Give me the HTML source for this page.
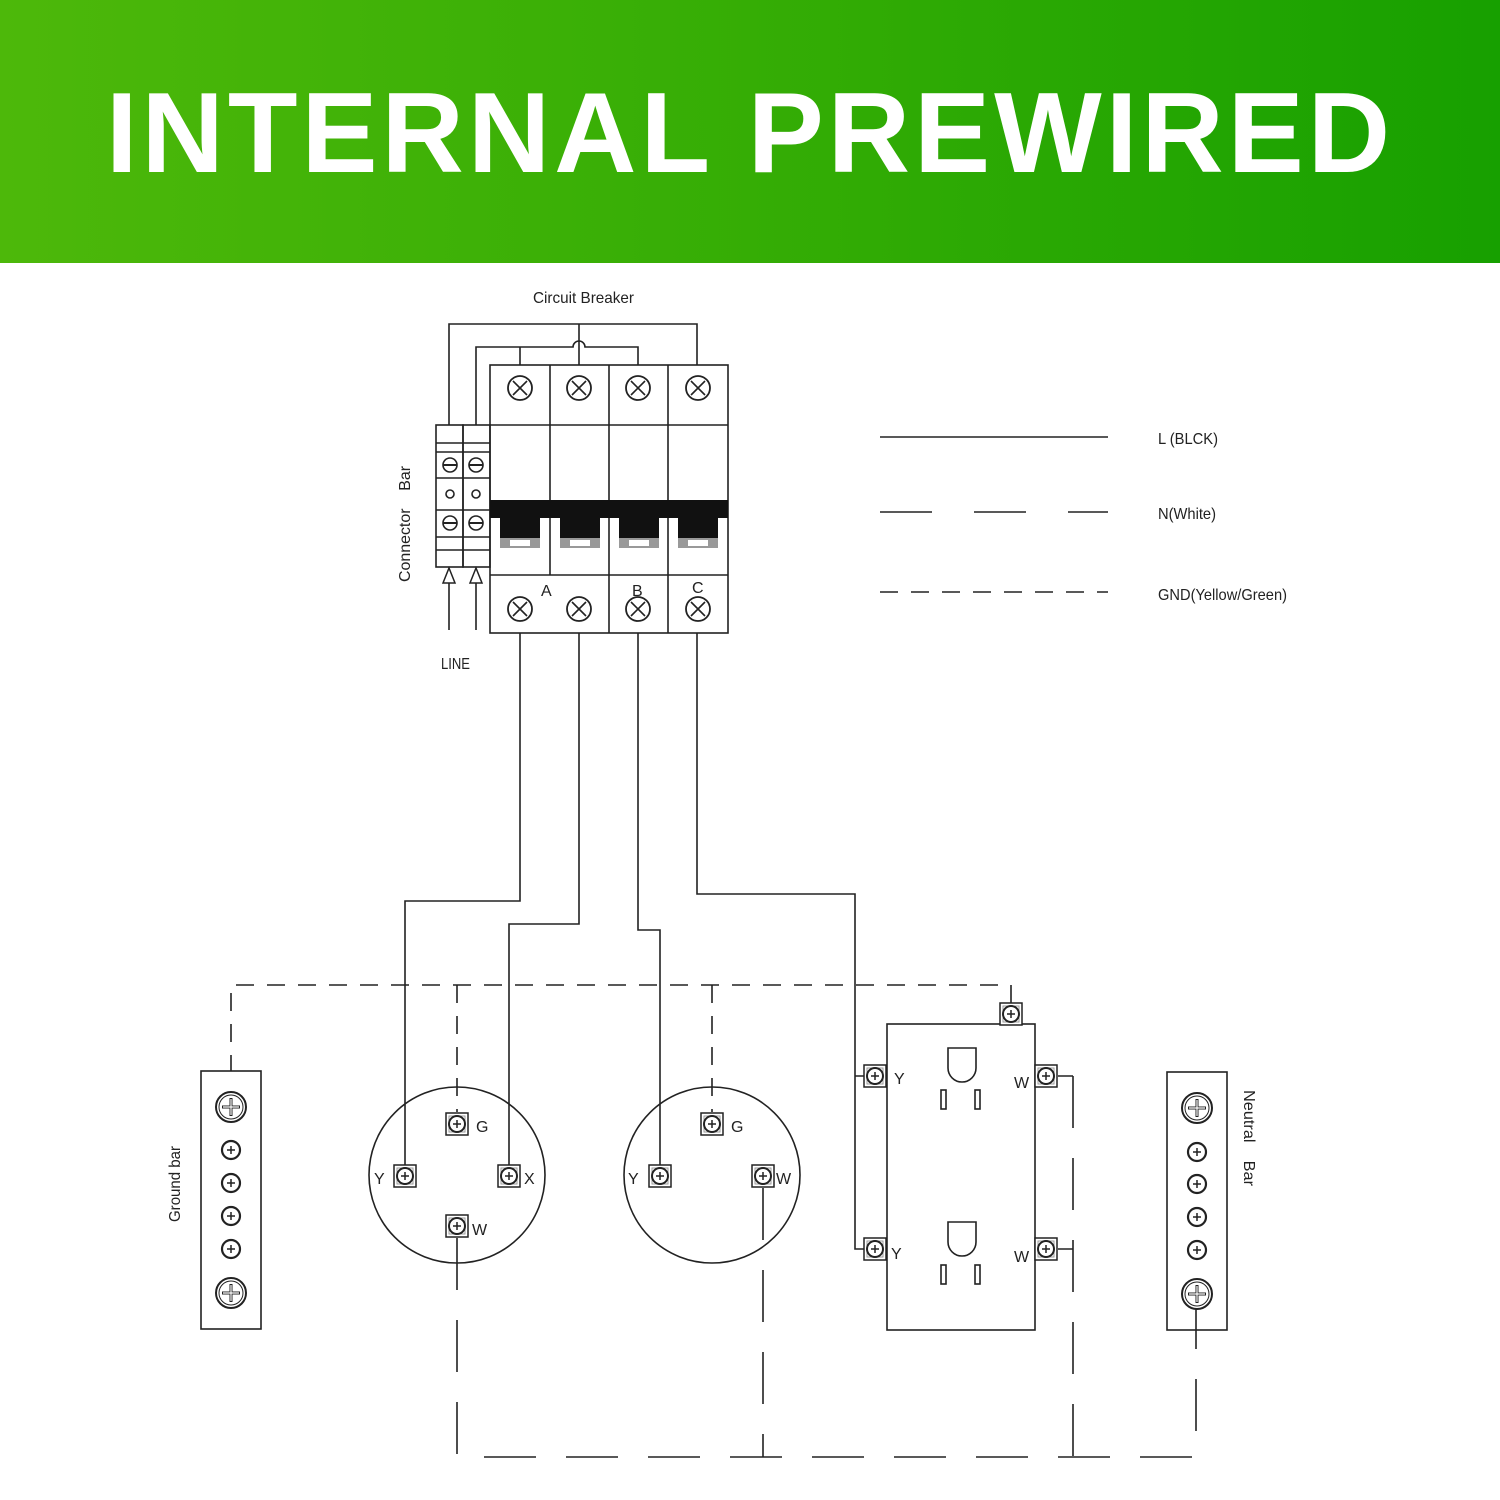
<!DOCTYPE html>
<html><head><meta charset="utf-8"><style>
html,body{margin:0;padding:0;background:#fff;}
.hdr{position:absolute;left:0;top:0;width:1500px;height:263px;background:linear-gradient(90deg,#4db80a 0%,#35ad05 50%,#17a000 100%);}
.hdr div{position:absolute;left:0;width:1500px;top:68px;text-align:center;color:#fff;font:bold 114px "Liberation Sans",sans-serif;letter-spacing:4px;}
svg{position:absolute;left:0;top:0;}
text{font-family:"Liberation Sans Narrow","Liberation Sans",sans-serif;fill:#222;font-size:16px;}
</style></head><body>
<div class="hdr"><div>INTERNAL PREWIRED</div></div>
<svg width="1500" height="1500" viewBox="0 0 1500 1500">
<defs>
<g id="tx"><path d="M-7,-7 L7,7 M7,-7 L-7,7" stroke="#222" stroke-width="1.6"/></g>
<g id="term"><rect x="-11" y="-11" width="22" height="22" fill="#fff" stroke="#222" stroke-width="1.5"/><rect x="-8" y="-8" width="16" height="16" fill="none" stroke="#999" stroke-width="1"/><circle r="8" fill="#fff" stroke="#222" stroke-width="2"/><path d="M-4,0H4M0,-4V4" stroke="#222" stroke-width="1.5"/></g>
<g id="bs"><circle r="15" fill="#fff" stroke="#222" stroke-width="2"/><circle r="12" fill="none" stroke="#222" stroke-width="1"/><path d="M-9,0H9M0,-9V9" stroke="#222" stroke-width="3"/><path d="M-8,0H8M0,-8V8" stroke="#fff" stroke-width="1.2"/></g>
<g id="ss"><circle r="9" fill="#fff" stroke="#222" stroke-width="2.2"/><path d="M-4,0H4M0,-4V4" stroke="#222" stroke-width="1.5"/></g>
</defs>
<g fill="none" stroke="#222" stroke-width="1.6">
<path d="M449,425V324H697V365M579,324V365"/>
<path d="M476,425V347H573A6,6 0 0 1 585,347H638V365M520,347V365"/>
<rect x="490" y="365" width="238" height="268"/>
<path d="M490,425H728M490,575H728M550,365V575M609,365V633M668,365V633"/>
<rect x="436" y="425" width="27" height="142"/><rect x="463" y="425" width="27" height="142"/>
<path d="M436,443H490M436,452H490M436,478H490M436,510H490M436,537H490M436,550H490"/>
</g>
<g fill="#fff" stroke="#222" stroke-width="1.6">
<circle cx="450" cy="465" r="7"/><circle cx="476" cy="465" r="7"/><circle cx="450" cy="494" r="4"/><circle cx="476" cy="494" r="4"/><circle cx="450" cy="523" r="7"/><circle cx="476" cy="523" r="7"/>
</g>
<path d="M443,465H457M469,465H483M443,523H457M469,523H483" stroke="#222" stroke-width="2"/>
<path d="M443,583L449,568L455,583ZM470,583L476,568L482,583Z" fill="#fff" stroke="#222" stroke-width="1.5"/>
<path d="M449,583V630M476,583V630" stroke="#222" stroke-width="1.6"/>
<rect x="490" y="500" width="238" height="18" fill="#111"/>
<g fill="#111"><rect x="500" y="516" width="40" height="22"/><rect x="560" y="516" width="40" height="22"/><rect x="619" y="516" width="40" height="22"/><rect x="678" y="516" width="40" height="22"/></g>
<g fill="#999"><rect x="500" y="538" width="40" height="10"/><rect x="560" y="538" width="40" height="10"/><rect x="619" y="538" width="40" height="10"/><rect x="678" y="538" width="40" height="10"/></g>
<g fill="#fff"><rect x="510" y="540" width="20" height="6"/><rect x="570" y="540" width="20" height="6"/><rect x="629" y="540" width="20" height="6"/><rect x="688" y="540" width="20" height="6"/></g>
<g fill="#fff" stroke="#222" stroke-width="1.8">
<circle cx="520" cy="388" r="12"/><circle cx="579" cy="388" r="12"/><circle cx="638" cy="388" r="12"/><circle cx="698" cy="388" r="12"/>
<circle cx="520" cy="609" r="12"/><circle cx="579" cy="609" r="12"/><circle cx="638" cy="609" r="12"/><circle cx="698" cy="609" r="12"/>
</g>
<use href="#tx" x="520" y="388"/><use href="#tx" x="579" y="388"/><use href="#tx" x="638" y="388"/><use href="#tx" x="698" y="388"/>
<use href="#tx" x="520" y="609"/><use href="#tx" x="579" y="609"/><use href="#tx" x="638" y="609"/><use href="#tx" x="698" y="609"/>
<text x="541" y="596">A</text><text x="632" y="596">B</text><text x="692" y="593">C</text>
<text x="533" y="303" textLength="101" lengthAdjust="spacingAndGlyphs">Circuit Breaker</text>
<text x="441" y="669" textLength="29" lengthAdjust="spacingAndGlyphs">LINE</text>
<text transform="translate(410,582) rotate(-90)" textLength="116" lengthAdjust="spacingAndGlyphs">Connector&#160;&#160;&#160;&#160;Bar</text>
<g stroke="#222" stroke-width="1.6" fill="none">
<path d="M880,437H1108"/>
<path d="M880,512H1108" stroke-dasharray="52 42"/>
<path d="M880,592H1108" stroke-dasharray="18 13"/>
</g>
<text x="1158" y="444" textLength="60" lengthAdjust="spacingAndGlyphs">L (BLCK)</text>
<text x="1158" y="519" textLength="58" lengthAdjust="spacingAndGlyphs">N(White)</text>
<text x="1158" y="600" textLength="129" lengthAdjust="spacingAndGlyphs">GND(Yellow/Green)</text>
<g fill="none" stroke="#222" stroke-width="1.6">
<path d="M520,633V901H405V1176"/>
<path d="M579,633V924H509V1176"/>
<path d="M638,633V930H660V1176"/>
<path d="M697,633V894H855V1249H875M855,1076H875"/>
<circle cx="457" cy="1175" r="88"/><circle cx="712" cy="1175" r="88"/>
<rect x="887" y="1024" width="148" height="306"/>
<rect x="201" y="1071" width="60" height="258"/>
<rect x="1167" y="1072" width="60" height="258"/>
<path d="M948,1048V1068A14,14 0 0 0 976,1068V1048Z"/><rect x="941" y="1090" width="5" height="19"/><rect x="975" y="1090" width="5" height="19"/>
<path d="M948,1222V1242A14,14 0 0 0 976,1242V1222Z"/><rect x="941" y="1265" width="5" height="19"/><rect x="975" y="1265" width="5" height="19"/>
<path d="M1011,1003V985H231V1071" stroke-dasharray="18 13"/>
<path d="M457,985V1112M712,985V1112" stroke-dasharray="18 13"/>
<path d="M457,1238V1457H1196V1308" stroke-dasharray="52 30"/>
<path d="M763,1188V1457M1073,1076V1457" stroke-dasharray="52 30"/>
<path d="M1058,1076H1073M1058,1249H1073"/>
</g>
<use href="#term" x="457" y="1124"/><use href="#term" x="405" y="1176"/><use href="#term" x="509" y="1176"/><use href="#term" x="457" y="1226"/>
<use href="#term" x="712" y="1124"/><use href="#term" x="660" y="1176"/><use href="#term" x="763" y="1176"/>
<use href="#term" x="875" y="1076"/><use href="#term" x="875" y="1249"/><use href="#term" x="1046" y="1076"/><use href="#term" x="1046" y="1249"/><use href="#term" x="1011" y="1014"/>
<text x="476" y="1132">G</text><text x="374" y="1184">Y</text><text x="524" y="1184">X</text><text x="472" y="1235">W</text>
<text x="731" y="1132">G</text><text x="628" y="1184">Y</text><text x="776" y="1184">W</text>
<text x="894" y="1084">Y</text><text x="891" y="1259">Y</text><text x="1014" y="1088">W</text><text x="1014" y="1262">W</text>
<use href="#bs" x="231" y="1107"/><use href="#ss" x="231" y="1150"/><use href="#ss" x="231" y="1183"/><use href="#ss" x="231" y="1216"/><use href="#ss" x="231" y="1249"/><use href="#bs" x="231" y="1293"/>
<use href="#bs" x="1197" y="1108"/><use href="#ss" x="1197" y="1152"/><use href="#ss" x="1197" y="1184"/><use href="#ss" x="1197" y="1217"/><use href="#ss" x="1197" y="1250"/><use href="#bs" x="1197" y="1294"/>
<text transform="translate(180,1222) rotate(-90)" textLength="76" lengthAdjust="spacingAndGlyphs">Ground bar</text>
<text transform="translate(1244,1090) rotate(90)" textLength="96" lengthAdjust="spacingAndGlyphs">Neutral&#160;&#160;&#160;&#160;Bar</text>
</svg>
</body></html>
